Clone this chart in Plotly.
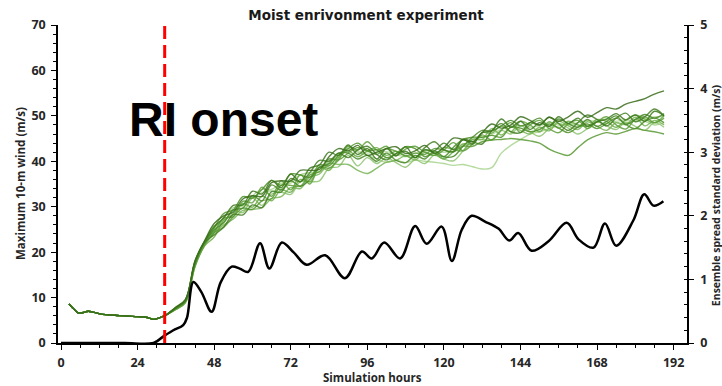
import plotly.graph_objects as go

# Shared spin-up of maximum 10-m wind (all members identical before RI onset)
spinup_hours = [2.5, 4, 5.5, 7, 8.5, 10, 13, 17, 21, 24, 27, 29, 31, 33]
spinup_wind = [8.6, 7.5, 6.6, 6.7, 7.0, 6.8, 6.3, 6.1, 5.9, 5.8, 5.6, 5.2, 5.6, 6.2]

# Member output times after onset (3-hourly)
member_hours = [36, 39, 42, 45, 48, 51, 54, 57, 60, 63, 66, 69, 72, 75, 78, 81, 84,
                87, 90, 93, 96, 99, 102, 105, 108, 111, 114, 117, 120, 123, 126, 129,
                132, 135, 138, 141, 144, 147, 150, 153, 156, 159, 162, 165, 168, 171,
                174, 177, 180, 183, 186, 189]

mA = [7.8, 9.5, 18.0, 22.4, 25.6, 27.5, 30.3, 30.4, 33.4, 32.8, 35.8, 34.2, 37.2, 35.5, 38.5, 39.2, 42.0, 41.3, 43.6, 41.5, 42.8, 40.5, 42.8, 41.2, 43.2, 40.8, 42.5, 42.3, 44.0, 42.6, 44.8, 43.8, 46.3, 46.7, 49.3, 47.5, 48.8, 47.0, 48.5, 47.7, 49.8, 48.3, 49.5, 47.7, 48.7, 49.3, 50.5, 49.1, 50.2, 48.8, 51.0, 50.0]
mB = [7.4, 8.9, 16.9, 21.5, 24.3, 27.5, 27.8, 31.2, 30.9, 34.3, 32.3, 35.7, 33.7, 37.0, 35.0, 38.7, 38.5, 40.3, 43.3, 42.5, 44.3, 42.5, 43.3, 41.2, 42.7, 43.3, 42.0, 41.3, 42.5, 44.1, 42.3, 43.8, 45.8, 44.7, 46.8, 48.5, 46.3, 48.0, 49.0, 47.2, 46.3, 48.3, 49.0, 47.2, 48.7, 49.8, 48.0, 47.1, 49.2, 49.8, 48.5, 49.5]
mC = [7.7, 9.2, 17.8, 22.2, 25.8, 26.5, 29.3, 28.7, 31.9, 30.3, 32.8, 33.2, 32.7, 35.5, 35.5, 35.7, 38.5, 38.8, 41.3, 39.0, 40.8, 39.5, 40.8, 39.7, 38.7, 40.3, 39.5, 41.3, 40.5, 40.1, 42.3, 44.8, 44.8, 44.7, 46.8, 46.0, 47.8, 46.5, 45.5, 47.2, 48.3, 47.3, 46.0, 47.2, 48.7, 47.8, 47.0, 48.6, 47.7, 46.8, 48.5, 47.5]
mD = [7.6, 9.3, 17.5, 22.1, 23.8, 25.5, 28.3, 28.2, 30.4, 29.8, 33.3, 33.2, 36.2, 35.5, 37.5, 40.2, 40.0, 41.8, 40.8, 42.5, 43.3, 41.5, 40.3, 41.7, 42.2, 40.8, 43.0, 44.3, 42.5, 42.1, 44.8, 44.3, 43.8, 46.7, 48.3, 46.5, 46.3, 48.5, 48.0, 49.7, 48.3, 46.8, 48.5, 50.2, 49.2, 47.8, 49.5, 50.6, 48.7, 49.8, 51.5, 50.0]
mE = [7.5, 9.0, 17.2, 21.8, 24.8, 27.5, 29.8, 30.2, 32.4, 33.8, 33.8, 35.2, 35.2, 37.0, 37.5, 37.7, 40.0, 40.8, 42.8, 42.0, 41.3, 40.5, 39.8, 40.2, 39.7, 40.3, 40.0, 39.8, 39.5, 39.1, 39.3, 38.8, 38.3, 38.6, 41.8, 43.5, 44.8, 46.0, 46.5, 47.2, 47.8, 48.3, 48.0, 47.7, 48.7, 49.3, 48.5, 48.1, 49.2, 48.8, 48.0, 48.5]
mF = [7.8, 9.4, 17.7, 22.0, 24.3, 25.5, 27.8, 29.7, 29.4, 31.3, 31.8, 34.7, 34.7, 34.5, 37.0, 37.7, 40.5, 40.3, 41.8, 43.0, 42.3, 41.5, 42.8, 42.2, 41.2, 41.8, 41.5, 42.8, 42.5, 42.1, 43.3, 43.3, 44.3, 44.7, 44.8, 45.0, 44.8, 44.5, 44.0, 42.7, 41.8, 41.3, 43.0, 44.7, 45.7, 46.3, 46.0, 46.6, 47.2, 46.8, 46.5, 46.0]
mG = [7.9, 9.6, 18.1, 22.5, 26.3, 28.0, 28.8, 31.7, 32.4, 32.3, 35.3, 35.7, 35.7, 38.0, 38.0, 38.2, 41.0, 42.8, 42.3, 43.5, 41.3, 42.0, 42.8, 43.2, 41.7, 42.3, 43.5, 41.8, 43.0, 45.1, 44.8, 44.3, 46.3, 48.2, 47.3, 48.0, 49.8, 49.0, 48.0, 49.7, 48.8, 49.8, 51.0, 49.7, 50.7, 51.8, 51.5, 52.6, 53.2, 53.8, 54.8, 55.5]
mH = [7.6, 9.2, 17.3, 21.7, 24.3, 26.0, 27.3, 29.2, 29.4, 29.8, 31.8, 32.2, 34.2, 34.0, 36.5, 37.2, 39.5, 39.3, 39.3, 38.0, 37.3, 38.5, 39.8, 40.2, 41.2, 40.3, 42.0, 41.3, 43.0, 42.6, 42.3, 44.8, 44.8, 47.2, 45.8, 47.5, 46.8, 46.0, 47.5, 46.7, 48.8, 47.8, 47.0, 48.7, 47.7, 46.8, 48.5, 48.1, 49.7, 47.8, 49.0, 48.0]
mI = [7.7, 9.3, 17.7, 22.2, 25.3, 28.5, 29.3, 32.2, 31.9, 33.8, 35.8, 34.7, 37.2, 37.0, 36.5, 39.2, 39.0, 41.3, 42.8, 44.0, 42.3, 42.5, 40.8, 41.7, 43.2, 42.8, 41.0, 41.8, 41.0, 43.1, 44.8, 45.3, 45.3, 45.7, 45.3, 47.5, 47.3, 46.5, 47.0, 48.2, 47.3, 46.3, 47.5, 48.2, 47.2, 48.3, 49.5, 48.1, 47.2, 48.8, 49.5, 48.5]
mJ = [7.6, 9.2, 17.6, 22.0, 25.1, 27.2, 28.5, 30.5, 31.9, 33.1, 33.5, 33.9, 35.7, 37.0, 37.5, 37.7, 39.2, 41.3, 42.6, 42.3, 41.8, 42.0, 42.1, 41.5, 41.0, 41.8, 42.3, 42.1, 42.0, 42.3, 43.5, 44.8, 45.3, 45.9, 47.1, 47.8, 47.8, 47.5, 47.8, 48.5, 48.3, 48.0, 48.5, 49.0, 48.7, 48.3, 48.8, 49.1, 48.9, 49.3, 49.8, 49.8]
mK = [7.4, 8.9, 16.8, 21.4, 23.3, 27.0, 28.3, 30.7, 29.9, 32.3, 31.3, 33.7, 33.2, 36.0, 35.5, 38.7, 38.0, 40.8, 42.3, 41.0, 42.3, 43.0, 41.3, 42.2, 41.2, 40.8, 42.5, 41.8, 40.5, 42.1, 43.8, 43.8, 46.3, 46.2, 47.8, 46.5, 48.8, 48.0, 46.5, 48.7, 47.3, 48.8, 48.0, 47.7, 49.2, 48.8, 47.5, 49.1, 50.2, 49.3, 48.5, 50.0]
mL = [7.8, 9.4, 17.9, 22.3, 24.8, 26.5, 29.3, 29.7, 32.4, 31.3, 34.8, 33.7, 35.7, 34.5, 36.0, 38.7, 39.5, 41.8, 41.8, 40.5, 41.3, 40.0, 41.8, 40.2, 39.7, 41.3, 40.5, 42.3, 41.0, 41.1, 43.3, 45.3, 46.8, 46.7, 47.8, 49.0, 47.8, 48.5, 49.5, 47.7, 49.3, 48.3, 47.5, 49.2, 47.7, 48.8, 50.0, 48.1, 49.2, 50.3, 49.5, 50.5]

members = [mJ, mE, mC, mH, mK, mB, mF, mI, mL, mD, mA, mG]
member_colors = ["#b5dba0", "#a8d48e", "#8dc26f", "#79b556", "#6aab45", "#5f9f3a",
                 "#5b9a35", "#4f9129", "#4a8a28", "#447f24", "#3f7a1f", "#3a6e1c"]

# Ensemble spread (standard deviation, right axis)
spread_hours = [0, 10, 20, 29, 32, 35.2, 38.3, 39.5, 41.5, 44, 47.2, 50, 53.5, 56,
                58.7, 62.4, 65.3, 69.2, 73, 77, 82.8, 89, 94.3, 97.4, 101.3, 106.3,
                111, 114.6, 119.3, 122.5, 125.6, 128.7, 132.9, 137.1, 140.5, 143.3,
                147.5, 152.8, 158.5, 162.2, 166.9, 170.5, 174, 179.4, 182.8, 185.7, 188.8]
spread_sd = [0, 0, 0, 0, 0.1, 0.2, 0.28, 0.4, 0.96, 0.8, 0.49, 0.95, 1.2, 1.17,
             1.12, 1.57, 1.17, 1.58, 1.42, 1.23, 1.38, 1.02, 1.44, 1.33, 1.58, 1.33,
             1.84, 1.56, 1.83, 1.29, 1.78, 2.0, 1.91, 1.8, 1.61, 1.73,
             1.45, 1.6, 1.89, 1.63, 1.5, 1.88, 1.53, 1.93, 2.34, 2.16, 2.23]

onset_hour = 32.5
x_ticks = [0, 24, 48, 72, 96, 120, 144, 168, 192]

fig = go.Figure()

for vals, col in zip(members, member_colors):
    fig.add_trace(go.Scatter(
        x=spinup_hours + member_hours, y=spinup_wind + vals,
        mode="lines", line=dict(color=col, width=1.4, shape="spline", smoothing=1.0),
        opacity=0.85, showlegend=False, hoverinfo="skip"))

fig.add_trace(go.Scatter(
    x=spread_hours, y=spread_sd, yaxis="y2", mode="lines",
    line=dict(color="black", width=2.5, shape="spline", smoothing=1.0),
    showlegend=False))

fig.add_shape(type="line", xref="x", yref="paper", x0=onset_hour, x1=onset_hour,
              y0=0, y1=1.016, line=dict(color="#ff0000", width=3, dash="13px,6px"))

tick_font = dict(family="Open Sans", size=12.5, color="#262626", weight="bold")
title_font = dict(family="Open Sans", size=11.5, color="#262626", weight="bold")

fig.update_layout(
    width=722, height=386,
    margin=dict(l=58, r=35, t=25, b=43, autoexpand=False),
    paper_bgcolor="white", plot_bgcolor="white",
    title=dict(text="Moist enrivonment experiment", x=0.507, xanchor="center",
               y=0.96, yanchor="middle",
               font=dict(family="DejaVu Sans", size=13.5, color="#1a1a1a", weight="bold")),
    xaxis=dict(range=[-0.94, 196.2], tickvals=x_ticks, showgrid=False, zeroline=False,
               showline=True, linecolor="black", linewidth=1.5,
               ticks="outside", ticklen=5, tickcolor="black", tickwidth=1.2,
               ticklabelstandoff=2, automargin=False,
               minor=dict(dtick=6, tick0=0, ticks="outside", ticklen=3, tickcolor="black"),
               tickfont=tick_font),
    yaxis=dict(range=[0, 70], dtick=10, showgrid=False, zeroline=False,
               showline=True, linecolor="black", linewidth=1.5,
               ticks="outside", ticklen=5, tickcolor="black", tickwidth=1.2,
               ticklabelstandoff=3, automargin=False,
               minor=dict(dtick=2, ticks="outside", ticklen=3, tickcolor="black"),
               tickfont=tick_font),
    yaxis2=dict(range=[0, 5], dtick=1, overlaying="y", side="right", showgrid=False,
                zeroline=False, showline=True, linecolor="black", linewidth=1.5,
                ticks="outside", ticklen=5, tickcolor="black", tickwidth=1.2,
                ticklabelstandoff=4, automargin=False,
                minor=dict(dtick=0.2, ticks="inside", ticklen=3, tickcolor="black"),
                tickfont=tick_font),
    annotations=[
        dict(text="Simulation hours", xref="paper", yref="paper",
             x=(372 - 58) / 629, y=-(377 - 343) / 318, showarrow=False,
             xanchor="center", yanchor="middle", font=title_font),
        dict(text="Maximum 10-m wind (m/s)", xref="paper", yref="paper",
             x=(20 - 58) / 629, y=0.5, textangle=-90, showarrow=False,
             xanchor="center", yanchor="middle", font=title_font),
        dict(text="Ensemble spread standard deviation (m/s)", xref="paper", yref="paper",
             x=(716 - 58) / 629, y=0.465, textangle=-90, showarrow=False,
             xanchor="center", yanchor="middle",
             font=dict(family="Open Sans", size=10.5, color="#262626", weight="bold")),
        dict(text="RI onset", xref="paper", yref="paper",
             x=(127 - 58) / 629, y=0.702, showarrow=False,
             xanchor="left", yanchor="middle",
             font=dict(family="Liberation Sans", size=48, color="black", weight="bold")),
    ],
)

fig.write_html("out.html")
